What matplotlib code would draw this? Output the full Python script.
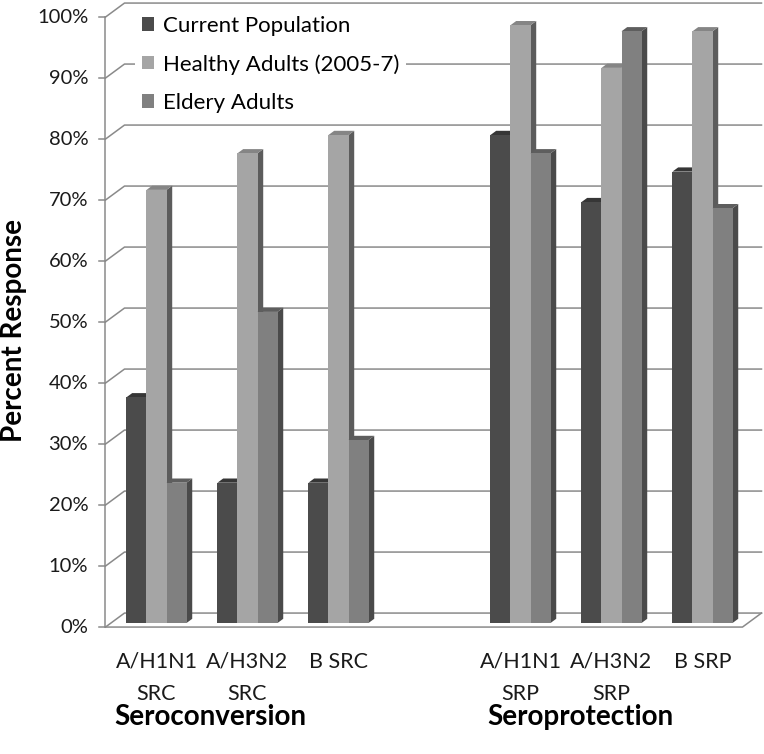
import matplotlib.pyplot as plt
from matplotlib.patches import Polygon, Patch

plt.rcParams['font.family'] = ['Lato', 'DejaVu Sans']

categories = ['A/H1N1\nSRC', 'A/H3N2\nSRC', 'B SRC', 'A/H1N1\nSRP', 'A/H3N2\nSRP', 'B SRP']
positions = [0, 1, 2, 4, 5, 6]
series = ['Current Population', 'Healthy Adults (2005-7)', 'Eldery Adults']
current_pop = [37, 23, 23, 80, 69, 74]
healthy_adults = [71, 77, 80, 98, 91, 97]
eldery_adults = [23, 51, 30, 77, 97, 68]
groups = ['Seroconversion', 'Seroprotection']
y_ticks = list(range(0, 101, 10))

face_cols = ['#4b4b4b', '#a5a5a5', '#808080']
side_cols = ['#3a3a3a', '#5c5c5c', '#4a4a4a']
top_cols = ['#363636', '#858585', '#5e5e5e']
grid_col = '#8a8a8a'

# depth vector (front floor edge -> back wall) in data units
depth = (0.2088, 2.295)
fx, fy = -0.29 * depth[0], -0.29 * depth[1]
bx, by = 0.71 * depth[0], 0.71 * depth[1]
sx, sy = 0.30 * depth[0], 0.30 * depth[1]
xl, xr = -0.5, 6.5
w = 0.22

fig = plt.figure(figsize=(7.64, 7.54), dpi=100)
ax = fig.add_axes([0, 0, 1, 1])
ax.set_xlim(-156.5 / 91, (764 - 156.5) / 91)
ax.set_ylim((623 - 754) / 6.1, 623 / 6.1)
ax.axis('off')

# walls / gridlines
for v in y_ticks:
    ax.plot([xl + fx, xl + bx, xr + bx], [v + fy, v + by, v + by],
            color=grid_col, lw=1.1, zorder=0)
    ax.plot([xl + fx - 0.07, xl + fx], [v + fy, v + fy], color=grid_col, lw=1.1, zorder=0)
    ax.text(xl + fx - 0.19, v + fy, f'{v}%', ha='right', va='center', fontsize=14.5,
            color='#1a1a1a')
ax.plot([xl + fx, xl + fx], [fy, 100 + fy], color=grid_col, lw=1.1, zorder=0)
ax.plot([xl + fx, xr + fx, xr + bx], [fy, fy, by], color=grid_col, lw=1.1, zorder=0)


def bar3d(x, h, i):
    ax.add_patch(Polygon([(x + w, 0), (x + w + sx, sy), (x + w + sx, h + sy), (x + w, h)],
                         fc=side_cols[i], ec='none', zorder=2))
    ax.add_patch(Polygon([(x, h), (x + sx, h + sy), (x + w + sx, h + sy), (x + w, h)],
                         fc=top_cols[i], ec='none', zorder=2))
    ax.bar(x, h, w, align='edge', color=face_cols[i], zorder=2)


values = [current_pop, healthy_adults, eldery_adults]
for k, p in enumerate(positions):
    for i in range(3):
        bar3d(p - 1.5 * w + i * w, values[i][k], i)

for p, lab in zip(positions, categories):
    ax.text(p, (623 - 652) / 6.1, lab, ha='center', va='top', fontsize=15.5,
            linespacing=1.75, color='#1a1a1a')

for gx, g in zip([(210 - 156.5) / 91, (580 - 156.5) / 91], groups):
    ax.text(gx, (623 - 717) / 6.1, g, ha='center', va='center', fontsize=20,
            fontweight='bold')

ax.text((14 - 156.5) / 91, (623 - 331) / 6.1, 'Percent Response', rotation=90,
        ha='center', va='center', fontsize=20, fontweight='bold')

handles = [Patch(fc=c, ec='none') for c in face_cols]
leg = ax.legend(handles, series, loc='upper left', bbox_to_anchor=(124 / 764, 1 + 2 / 754),
                bbox_transform=fig.transFigure, fontsize=16, frameon=True,
                handlelength=0.55, handleheight=0.55, handletextpad=0.4,
                labelspacing=0.82, borderpad=0.3, fancybox=False)
leg.get_frame().set_edgecolor('none')
leg.get_frame().set_facecolor('white')
leg.get_frame().set_alpha(1)
leg.set_zorder(5)

fig.savefig('out.png', dpi=100)
